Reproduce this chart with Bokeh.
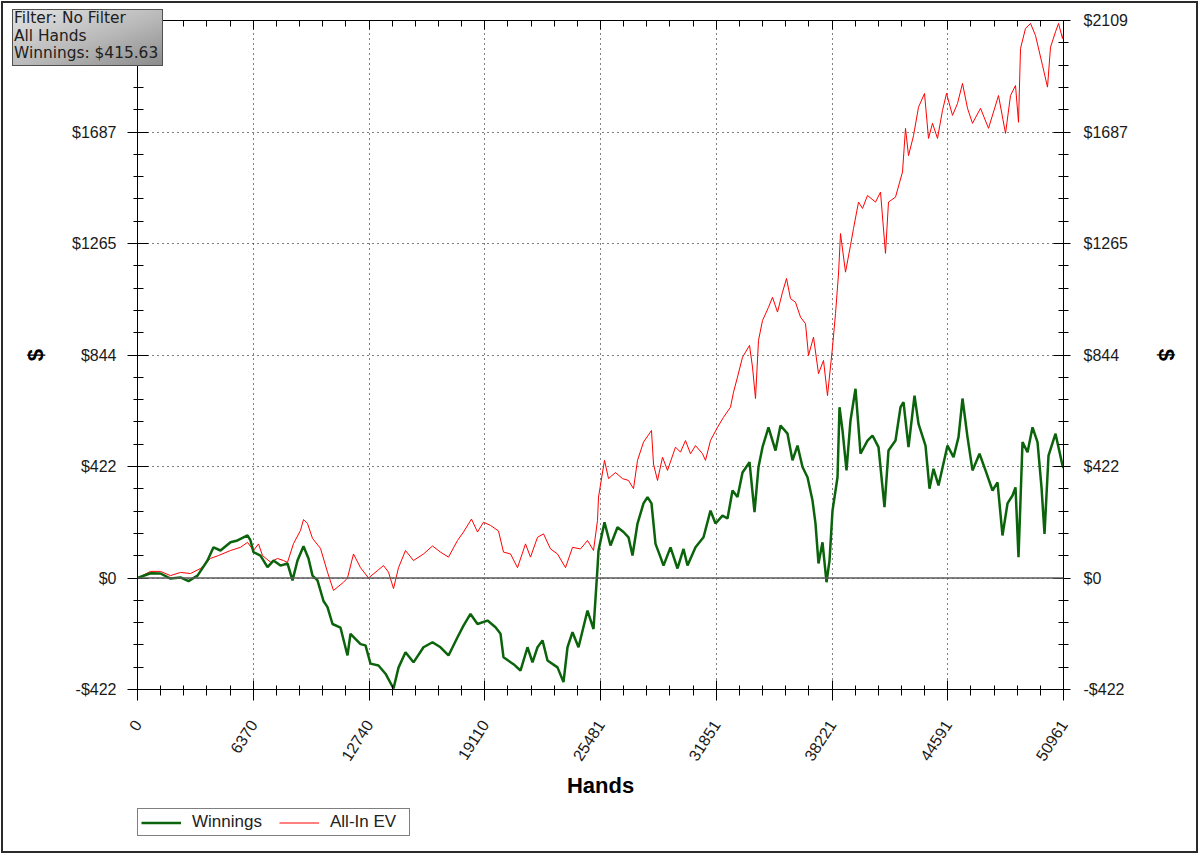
from bokeh.plotting import figure
from bokeh.models import (Range1d, LinearAxis, FixedTicker, CustomJSTickFormatter, Span,
                          Legend, LegendItem, Div)
from bokeh.embed import file_html
from bokeh.resources import INLINE

# ---------------- data ----------------
win_hands = [0, 715, 1266, 1816, 2366, 2807, 3302, 3852, 4183, 4568, 5118, 5503, 6054, 6219, 6384,
             6769, 7154, 7485, 7870, 8255, 8530, 8805, 9136, 9411, 9631, 9906, 10236, 10456, 10732,
             11172, 11557, 11722, 12273, 12548, 12823, 13263, 13648, 14089, 14364, 14749, 15189,
             15740, 16235, 16675, 17116, 17611, 17941, 18326, 18712, 19262, 19702, 19977, 20142,
             20693, 21078, 21463, 21738, 22014, 22289, 22564, 23114, 23444, 23665, 23940, 24270,
             24765, 25096, 25316, 25371, 25701, 26031, 26416, 26747, 27022, 27242, 27517, 27847,
             28067, 28287, 28508, 28783, 28948, 29333, 29718, 30049, 30269, 30709, 31149, 31534,
             31810, 32195, 32470, 32745, 33020, 33296, 33681, 33956, 34176, 34396, 34726, 35112,
             35387, 35772, 36047, 36322, 36598, 36873, 37148, 37313, 37478, 37698, 37918, 38084,
             38249, 38524, 38634, 38799, 39019, 39239, 39514, 39680, 39790, 40175, 40450, 40780,
             41110, 41330, 41716, 41991, 42156, 42431, 42762, 42982, 43367, 43587, 43807, 44082,
             44578, 44908, 45183, 45403, 45678, 45953, 46339, 46669, 47054, 47329, 47604, 47880,
             48155, 48320, 48485, 48705, 48981, 49256, 49531, 49751, 49916, 50136, 50521, 50906,
             50961]
win_values = [0, 18, 17, -2, 2, -12, 9, 66, 116, 104, 135, 142, 161, 142, 98,
              85, 41, 66, 47, 55, -9, 66, 120, 74, 9, -9, -87, -110, -174,
              -188, -293, -211, -250, -255, -324, -331, -362, -418, -339, -281, -319,
              -262, -243, -262, -293, -224, -180, -136, -174, -161, -186, -211, -300,
              -326, -350, -262, -319, -262, -236, -312, -338, -394, -262, -205, -262,
              -123, -193, 39, 104, 211, 123, 192, 174, 154, 85, 206, 282,
              306, 282, 129, 79, 47, 116, 36, 110, 47, 116, 154, 255,
              206, 236, 225, 331, 306, 399, 438, 249, 420, 495, 570, 482,
              577, 546, 445, 501, 420, 381, 293, 206, 55, 135, -16, 66,
              255, 381, 646, 558, 407, 596, 716, 570, 470, 520, 539, 495,
              268, 482, 520, 646, 665, 495, 690, 583, 501, 338, 413, 350,
              501, 457, 533, 679, 533, 407, 470, 407, 331, 362, 161, 282,
              312, 343, 79, 514, 476, 570, 514, 343, 167, 463, 546, 426,
              416]

ev_hands = [0, 715, 1266, 1816, 2366, 2917, 3467, 4017, 4458, 5118, 5669, 6054, 6384, 6659, 6879,
            7320, 7705, 8035, 8255, 8585, 8971, 9136, 9356, 9631, 10071, 10456, 10787, 11337,
            11557, 11887, 12273, 12713, 13208, 13538, 13814, 14089, 14364, 14749, 15189, 15740,
            16235, 16675, 17116, 17611, 17941, 18381, 18712, 19042, 19427, 19867, 20142, 20528,
            20913, 21353, 21628, 22014, 22344, 22729, 23114, 23555, 23940, 24380, 24765, 25096,
            25316, 25371, 25701, 25921, 26306, 26691, 27022, 27297, 27517, 27847, 28287, 28398,
            28618, 28893, 29168, 29608, 29883, 30159, 30434, 30709, 31094, 31259, 31534, 31920,
            32250, 32635, 32800, 33020, 33296, 33681, 33846, 34011, 34176, 34396, 34726, 34946,
            35222, 35497, 35717, 35937, 36212, 36487, 36763, 36928, 37203, 37478, 37753, 37973,
            38249, 38414, 38579, 38689, 38964, 39239, 39404, 39680, 39900, 40175, 40615, 40890,
            41165, 41330, 41716, 42101, 42266, 42431, 42706, 42982, 43312, 43532, 43752, 44027,
            44302, 44523, 44853, 45128, 45403, 45678, 45953, 46394, 46834, 47384, 47770, 48045,
            48320, 48485, 48595, 48870, 49145, 49421, 49806, 50081, 50246, 50521, 50686, 50906,
            50961]
ev_values = [0, 25, 25, 9, 21, 17, 36, 74, 85, 104, 116, 135, 104, 129, 85,
             60, 74, 66, 59, 130, 180, 221, 206, 150, 112, 22, -47, -16,
             0, 91, 39, 0, 28, 47, 22, -40, 39, 104, 66, 91,
             121, 98, 79, 142, 174, 223, 174, 211, 199, 178, 98, 91,
             39, 129, 79, 154, 167, 110, 91, 39, 116, 110, 142, 104,
             218, 306, 445, 376, 399, 376, 369, 338, 445, 514, 558, 431,
             369, 457, 407, 495, 476, 520, 470, 501, 470, 445, 520, 570,
             608, 646, 703, 760, 835, 880, 798, 679, 899, 974, 1024, 1062,
             1006, 1081, 1133, 1057, 1043, 987, 962, 842, 911, 773, 823, 690,
             873, 1000, 1150, 1303, 1157, 1258, 1322, 1422, 1398, 1447, 1422, 1460,
             1228, 1422, 1441, 1536, 1701, 1598, 1673, 1781, 1833, 1663, 1720, 1663,
             1769, 1833, 1750, 1795, 1871, 1777, 1720, 1777, 1701, 1825, 1682, 1825,
             1863, 1724, 2003, 2079, 2098, 2052, 1939, 1857, 2008, 2066, 2098, 2041,
             2060]

x_tick_values = [0, 6370.125, 12740.25, 19110.375, 25480.5, 31850.625, 38220.75, 44590.875, 50961]
x_tick_labels = ["0", "6370", "12740", "19110", "25481", "31851", "38221", "44591", "50961"]
y_tick_values = [-421.8, 0, 421.8, 843.6, 1265.4, 1687.2, 2109.0]
y_tick_labels = ["-$422", "$0", "$422", "$844", "$1265", "$1687", "$2109"]

info_lines = ["Filter: No Filter", "All Hands", "Winnings: $415.63"]
series_names = ["Winnings", "All-In EV"]

# ---------------- main figure ----------------
FONT = "Liberation Sans"
WIN_COLOR, EV_COLOR = "#0b640b", "#ff0000"

p = figure(width=1200, height=855, output_backend="svg", toolbar_location=None,
           x_range=Range1d(0, 50961), y_range=Range1d(-421.8, 2109.0),
           min_border_left=137, min_border_right=137, min_border_top=20, min_border_bottom=166,
           background_fill_color="white", border_fill_color="white")
p.outline_line_color = "black"


def minors(vals):
    out = []
    for a, b in zip(vals[:-1], vals[1:]):
        for k in range(1, 5):
            out.append(a + (b - a) * k / 5)
    return out


xticker = FixedTicker(ticks=x_tick_values, minor_ticks=minors(x_tick_values))
yticker = FixedTicker(ticks=y_tick_values, minor_ticks=minors(y_tick_values))

fmt_code = """
let b = 0;
for (let i = 0; i < vals.length; i++) {
  if (Math.abs(vals[i] - tick) < Math.abs(vals[b] - tick)) b = i;
}
return labs[b];
"""
xfmt = CustomJSTickFormatter(args=dict(vals=x_tick_values, labs=x_tick_labels), code=fmt_code)
yfmt = CustomJSTickFormatter(args=dict(vals=y_tick_values, labs=y_tick_labels), code=fmt_code)


def style_axis(ax):
    ax.axis_line_color = "black"
    ax.axis_line_width = 1
    ax.major_tick_line_color = "black"
    ax.minor_tick_line_color = "black"
    ax.major_label_text_font = FONT
    ax.major_label_text_font_size = "16px"
    ax.major_label_text_color = "#1a1a1a"
    ax.axis_label_text_font = FONT
    ax.axis_label_text_font_style = "bold"
    ax.axis_label_text_font_size = "22px"
    ax.axis_label_text_color = "black"


bax = p.xaxis[0]
bax.ticker = xticker
bax.formatter = xfmt
style_axis(bax)
bax.major_tick_in = 9
bax.major_tick_out = 11
bax.minor_tick_in = 4
bax.minor_tick_out = 6
bax.major_label_orientation = 1.0
bax.major_label_standoff = 21
bax.axis_label = "Hands"
bax.axis_label_standoff = 5

lax = p.yaxis[0]
lax.ticker = yticker
lax.formatter = yfmt
style_axis(lax)
lax.major_tick_in = 11
lax.major_tick_out = 10
lax.minor_tick_in = 6
lax.minor_tick_out = 4
lax.major_label_standoff = 11
lax.axis_label = "$"
lax.axis_label_standoff = 21

rax = LinearAxis(ticker=yticker, formatter=yfmt)
style_axis(rax)
rax.major_tick_in = 10
rax.major_tick_out = 7
rax.minor_tick_in = 5
rax.minor_tick_out = 5
rax.major_label_standoff = 13
rax.axis_label = "$"
rax.axis_label_standoff = 23
p.add_layout(rax, "right")

tax = LinearAxis(ticker=xticker, formatter=CustomJSTickFormatter(code="return '';"))
style_axis(tax)
tax.major_tick_in = 9
tax.major_tick_out = 0
tax.minor_tick_in = 6
tax.minor_tick_out = 0
tax.major_label_standoff = 0
p.add_layout(tax, "above")

p.xgrid.ticker = FixedTicker(ticks=x_tick_values)
p.ygrid.ticker = FixedTicker(ticks=y_tick_values)
for g in (p.xgrid[0], p.ygrid[0]):
    g.grid_line_color = "black"
    g.grid_line_dash = "1 4"
    g.grid_line_width = 1

p.add_layout(Span(location=0, dimension="width", line_color="#5a5a5a", line_width=1.5))

p.line(ev_hands, ev_values, line_color=EV_COLOR, line_width=1)
p.line(win_hands, win_values, line_color=WIN_COLOR, line_width=2.5)

# ---------------- legend (own small figure, placed under the chart) ----------------
# the series are drawn here too, but the view range lies beside the data, so only the
# legend box (which carries each renderer's line style) is visible
lf = figure(width=290, height=30, output_backend="svg", toolbar_location=None,
            x_range=Range1d(-20, -10), y_range=Range1d(-20, -10),
            x_axis_type=None, y_axis_type=None,
            min_border=0, background_fill_color="white", border_fill_color="white")
lf.grid.visible = False
lf.outline_line_color = None
lf.styles = {"position": "absolute", "left": "137px", "top": "808px", "z-index": "10"}
lw = lf.line(win_hands, win_values, line_color=WIN_COLOR, line_width=2.5)
le = lf.line(ev_hands, ev_values, line_color=EV_COLOR, line_width=1)
legend = Legend(items=[LegendItem(label=series_names[0], renderers=[lw]),
                       LegendItem(label=series_names[1], renderers=[le])],
                location="top_left", orientation="horizontal")
legend.border_line_color = "black"
legend.border_line_width = 1
legend.background_fill_color = "white"
legend.background_fill_alpha = 1
legend.label_text_font = FONT
legend.label_text_font_size = "17px"
legend.label_text_color = "#222222"
legend.glyph_width = 40
legend.glyph_height = 15
legend.label_height = 15
legend.label_width = 76
legend.label_standoff = 11
legend.spacing = 11
legend.padding = 3
legend.margin = 0
lf.add_layout(legend)

# ---------------- overlays: info box and page frame ----------------
info_html = ('<div style="font-family: \'DejaVu Sans\'; font-size: 15.4px; line-height: 17.5px; '
             'color: #202020; padding-left: 1px; white-space: nowrap;">'
             + "<br>".join(info_lines) + "</div>")
info = Div(text=info_html, width=151, height=57, disable_math=True, margin=0,
           styles={"position": "absolute", "left": "12px", "top": "9px", "z-index": "10",
                   "box-sizing": "border-box", "border": "1px solid #505050",
                   "background": "linear-gradient(160deg, #e4e4e4 0%, #b8b8b8 55%, #8c8c8c 100%)",
                   "overflow": "hidden"})

frame_div = Div(text="", width=1197, height=852, margin=0,
                styles={"position": "absolute", "left": "1px", "top": "1px", "z-index": "20",
                        "box-sizing": "border-box", "border": "2px solid #2a2a2a",
                        "pointer-events": "none"})

open("out.html", "w").write(file_html([p, lf, info, frame_div], INLINE))
